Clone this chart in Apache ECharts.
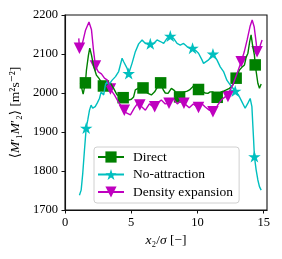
<!DOCTYPE html>
<html><head><meta charset="utf-8">
<script src="https://cdn.jsdelivr.net/npm/echarts@6/dist/echarts.min.js"></script>
<style>html,body{margin:0;padding:0;background:#fff}#c{width:282px;height:259px}</style>
</head><body><div id="c"></div>
<script>
// ---- Data ----
const xTicks = [0, 5, 10, 15];
const yTicks = [1700, 1800, 1900, 2000, 2100, 2200];
const seriesNames = ['Direct', 'No-attraction', 'Density expansion'];

const directX = [1.17,1.37,1.54,1.62,1.77,1.87,2.0,2.17,2.37,2.55,2.75,2.90,3.13,3.43,3.65,3.93,4.18,4.39,4.56,4.81,5.01,5.18,5.31,5.46,5.68,5.89,6.07,6.27,6.52,6.77,6.97,7.22,7.42,7.57,7.78,8.03,8.27,8.44,8.65,8.85,9.03,9.23,9.40,9.61,9.78,9.95,10.08,10.25,10.41,10.59,10.79,10.96,11.17,11.30,11.49,11.64,11.79,11.98,12.17,12.42,12.68,12.92,13.17,13.38,13.55,13.68,13.81,13.94,14.05,14.16,14.30,14.36,14.56,14.68,14.81];
const directY = [2026,1997,2026,2059,2097,2115,2097,2067,2046,2038,2028,2018,2021,2026,2013,1995,1990,1988,1987,1982,1984,1990,2008,2013,2015,2013,2005,1999,1995,2003,2015,2026,2008,2000,1999,2012,2006,1995,1990,2000,2003,2005,2008,2015,2021,2015,2009,2008,2003,2000,1999,2003,2003,1995,1989,1997,2003,2005,2008,2012,2021,2038,2059,2067,2072,2092,2102,2131,2149,2123,2097,2072,2025,2012,2023];
const directMarkX = [1.54,2.90,4.39,5.89,7.22,8.65,10.08,11.49,12.92,14.36];
const directMarkY = [2026,2018,1988,2013,2026,1990,2009,1989,2038,2072];

const noAttrX = [1.09,1.17,1.22,1.34,1.47,1.60,1.72,1.85,1.97,2.09,2.28,2.43,2.60,2.73,2.92,3.05,3.18,3.30,3.56,3.81,4.05,4.31,4.43,4.69,4.81,5.06,5.31,5.56,5.82,6.07,6.44,6.69,6.95,7.20,7.45,7.70,7.95,8.20,8.46,8.70,8.95,9.21,9.42,9.63,9.83,10.08,10.34,10.46,10.59,10.84,11.17,11.47,11.72,11.97,12.22,12.47,12.85,13.10,13.35,13.60,13.81,13.98,14.11,14.18,14.24,14.30,14.43,14.56,14.68,14.81];
const noAttrY = [1738,1736,1751,1794,1854,1910,1931,1956,1969,1961,1965,1974,1986,2003,1995,2021,2029,2021,2033,2042,2055,2089,2080,2063,2050,2076,2106,2126,2136,2127,2126,2127,2136,2132,2127,2140,2146,2140,2127,2123,2127,2119,2115,2115,2110,2102,2085,2076,2076,2085,2100,2085,2067,2055,2033,2021,2005,1995,1978,1961,1974,1986,1965,1918,1879,1837,1803,1777,1760,1751];
const noAttrMarkX = [1.60,4.81,6.44,7.95,9.63,11.17,12.85,14.30];
const noAttrMarkY = [1910,2050,2126,2146,2115,2100,2005,1837];

const densX = [1.04,1.09,1.15,1.32,1.54,1.81,2.0,2.15,2.30,2.52,2.75,2.98,3.20,3.43,3.73,4.03,4.33,4.48,4.63,4.94,5.24,5.46,5.65,5.76,6.07,6.37,6.67,6.77,6.97,7.27,7.57,7.85,8.18,8.48,8.78,8.98,9.08,9.38,9.68,9.98,10.08,10.29,10.59,10.89,11.17,11.49,11.79,12.09,12.30,12.40,12.70,13.00,13.30,13.53,13.75,13.98,14.13,14.28,14.43,14.50,14.62,14.73,14.88];
const densY = [2140,2115,2112,2128,2160,2182,2162,2110,2069,2054,2049,2038,2033,2010,1995,1977,1962,1956,1949,1944,1962,1972,1969,1969,1956,1972,1964,1965,1974,1982,1972,1974,1985,1972,1982,1974,1972,1962,1972,1964,1963,1974,1964,1956,1952,1967,1982,1990,1991,2003,2023,2051,2080,2105,2136,2172,2187,2170,2130,2106,2105,2121,2136];
const densMarkX = [1.09,2.30,3.43,4.48,5.65,6.77,7.85,8.98,10.08,11.17,12.30,13.30,14.50];
const densMarkY = [2115,2069,2010,1956,1969,1965,1974,1974,1963,1952,1991,2080,2106];

// ---- Build ----
const zip = (a, b) => a.map((v, i) => [v, b[i]]);
const colors = ['#008000', '#00bfbf', '#bf00bf'];
let pts = [];
for (let k = 0; k < 10; k++) {
  const ang = (-90 + 36 * k) * Math.PI / 180;
  const r = k % 2 === 0 ? 1 : 0.382;
  pts.push(((1 + r * Math.cos(ang)) * 50).toFixed(2) + ' ' + ((1 + r * Math.sin(ang)) * 50).toFixed(2));
}
const starPath = 'path://M' + pts.join(' L') + ' Z';
const symbols = ['rect', starPath, 'triangle'];
const symSizes = [11.5, [12.5, 12], 11.5];
const rot = [0, 0, 180];
const lines = [zip(directX, directY), zip(noAttrX, noAttrY), zip(densX, densY)];
const marks = [zip(directMarkX, directMarkY), zip(noAttrMarkX, noAttrMarkY), zip(densMarkX, densMarkY)];

const series = [];
for (let i = 0; i < 3; i++) {
  series.push({
    type: 'line', name: seriesNames[i], data: lines[i],
    showSymbol: false, symbol: symbols[i], symbolRotate: rot[i], symbolSize: symSizes[i],
    lineStyle: { color: colors[i], width: 1.4 }, itemStyle: { color: colors[i] },
    animation: false, silent: true
  });
  series.push({
    type: 'scatter', name: '_m' + i, data: marks[i],
    symbol: symbols[i], symbolRotate: rot[i], symbolSize: symSizes[i],
    itemStyle: { color: colors[i], opacity: 1 }, animation: false, silent: true
  });
}

const FF = '"Liberation Serif", "DejaVu Serif", serif';
const chart = echarts.init(document.getElementById('c'), null, { renderer: 'canvas' });
chart.setOption({
  backgroundColor: '#fff',
  animation: false,
  grid: { left: 64, right: 15, top: 15, bottom: 49, show: true, borderColor: '#111', borderWidth: 1.1, backgroundColor: 'transparent' },
  xAxis: {
    type: 'value', min: 0, max: 15.25,
    name: '{i|x}₂/{i|σ} [−]', nameLocation: 'middle', nameGap: 23,
    nameTextStyle: { fontFamily: FF, fontSize: 13.5, color: '#000', rich: { i: { fontFamily: FF, fontSize: 13.5, fontStyle: 'italic', color: '#000' } } },
    axisLine: { show: true, onZero: false, lineStyle: { color: '#111', width: 1.1 } },
    axisTick: { show: true, inside: false, length: 3.5, customValues: xTicks, lineStyle: { color: '#111', width: 1 } },
    axisLabel: { customValues: xTicks, formatter: v => String(v), fontFamily: FF, fontSize: 12.5, color: '#000', margin: 6 },
    splitLine: { show: false }
  },
  yAxis: {
    type: 'value', min: yTicks[0], max: yTicks[yTicks.length - 1], interval: 100,
    name: '⟨{i|M}′₁{i|M}′₂⟩ [m²s⁻²]', nameLocation: 'middle', nameGap: 43,
    nameTextStyle: { fontFamily: FF, fontSize: 13.5, color: '#000', rich: { i: { fontFamily: FF, fontSize: 13.5, fontStyle: 'italic', color: '#000' } } },
    axisLine: { show: true, onZero: false, lineStyle: { color: '#111', width: 1.1 } },
    axisTick: { show: true, inside: false, length: 3.5, lineStyle: { color: '#111', width: 1 } },
    axisLabel: { formatter: v => String(v), fontFamily: FF, fontSize: 12.5, color: '#000', margin: 7 },
    splitLine: { show: false }
  },
  legend: {
    data: seriesNames, orient: 'vertical', left: 94, top: 147,
    padding: [3, 6, 4, 3], itemWidth: 26, itemHeight: 14, itemGap: 3.5,
    backgroundColor: 'rgba(255,255,255,0.85)', borderColor: '#d0d0d0', borderWidth: 1, borderRadius: 3,
    textStyle: { fontFamily: FF, fontSize: 13.5, color: '#000', padding: [0, 0, 0, 4] },
    selectedMode: false
  },
  series: series
});
</script>
</body></html>
